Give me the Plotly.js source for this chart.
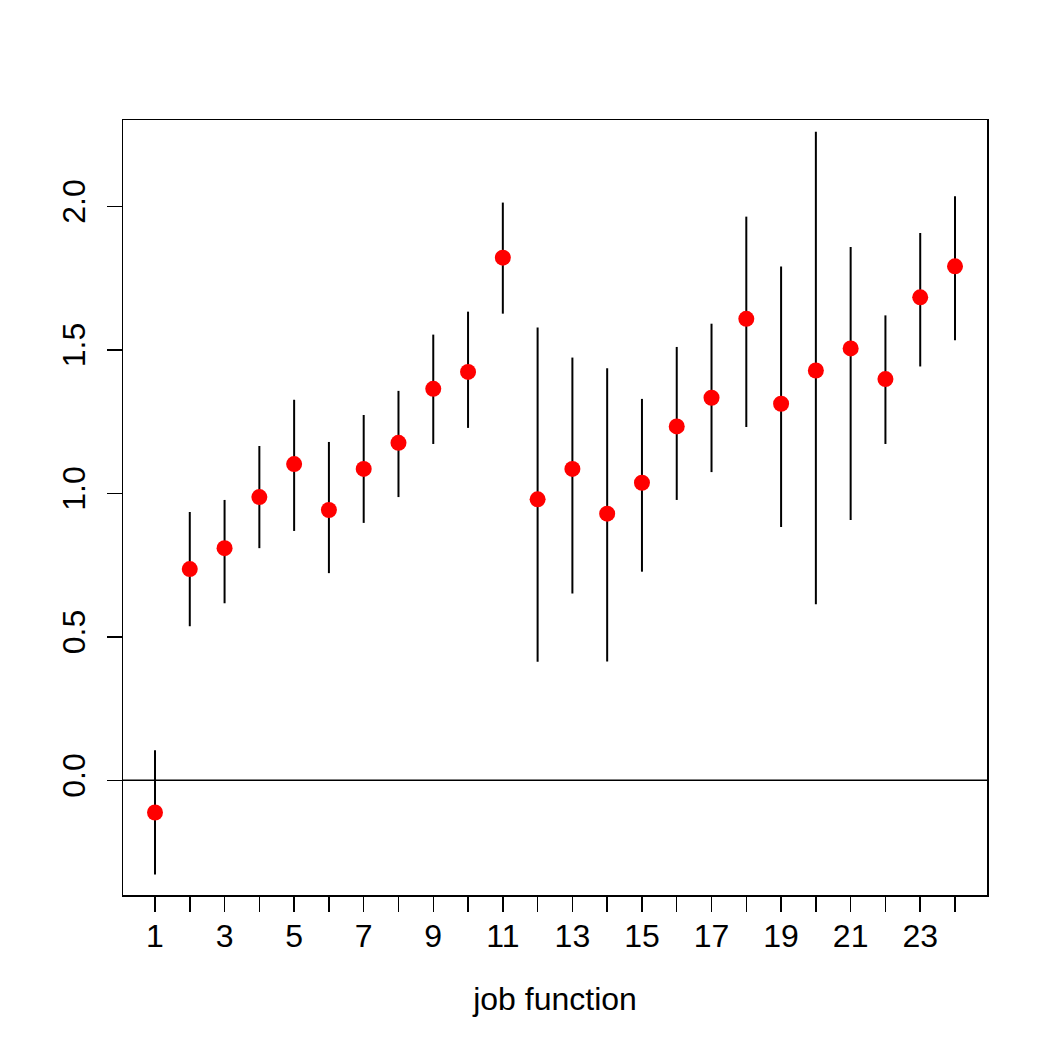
<!DOCTYPE html>
<html>
<head>
<meta charset="utf-8">
<script src="https://cdn.plot.ly/plotly-3.0.1.min.js"></script>
<style>html,body{margin:0;padding:0;background:#fff;}</style>
</head>
<body>
<div id="chart" style="width:1048px;height:1048px;"></div>
<script>
const jobFunction = [1,2,3,4,5,6,7,8,9,10,11,12,13,14,15,16,17,18,19,20,21,22,23,24];
const estimate = [-0.112,0.736,0.809,0.987,1.102,0.942,1.085,1.176,1.364,1.423,1.821,0.979,1.085,0.929,1.037,1.233,1.333,1.608,1.312,1.428,1.505,1.398,1.683,1.791];
const upper = [0.105,0.935,0.977,1.165,1.326,1.179,1.273,1.357,1.553,1.633,2.013,1.578,1.473,1.436,1.329,1.510,1.591,1.964,1.790,2.260,1.858,1.620,1.907,2.035];
const lower = [-0.328,0.537,0.617,0.809,0.869,0.722,0.897,0.987,1.172,1.228,1.626,0.413,0.651,0.414,0.727,0.977,1.074,1.231,0.883,0.614,0.907,1.172,1.442,1.533];
const xTickLabels = jobFunction.map(v => (v % 2 === 1 ? String(v) : ""));
const yTickVals = [0, 0.5, 1.0, 1.5, 2.0];
const yTickLabels = ["0.0", "0.5", "1.0", "1.5", "2.0"];

const font = {family: "Liberation Sans, Arial, Helvetica, sans-serif", size: 32, color: "#000"};

const trace = {
  x: jobFunction,
  y: estimate,
  type: "scatter",
  mode: "markers",
  marker: {color: "#ff0000", size: 16},
  error_y: {
    type: "data",
    symmetric: false,
    array: upper.map((u, i) => u - estimate[i]),
    arrayminus: estimate.map((e, i) => e - lower[i]),
    color: "#000",
    thickness: 2,
    width: 0
  },
  hoverinfo: "x+y",
  showlegend: false
};

const layout = {
  width: 1048,
  height: 1048,
  margin: {l: 123, r: 61, t: 120, b: 153},
  paper_bgcolor: "#fff",
  plot_bgcolor: "#fff",
  font: font,
  showlegend: false,
  xaxis: {
    range: [0.08, 24.92],
    tickmode: "array",
    tickvals: jobFunction,
    ticktext: xTickLabels,
    ticks: "outside",
    ticklen: 15,
    tickwidth: 1.5,
    tickcolor: "#000",
    showline: true,
    linecolor: "#000",
    linewidth: 1.5,
    mirror: true,
    showgrid: false,
    zeroline: false,
    tickfont: font,
    ticklabelstandoff: -3,
    title: {text: "job function", font: font, standoff: 34},
    automargin: false
  },
  yaxis: {
    range: [-0.3994, 2.3007],
    tickmode: "array",
    tickvals: yTickVals,
    ticktext: yTickLabels,
    tickangle: -90,
    ticks: "outside",
    ticklen: 15,
    tickwidth: 1.5,
    tickcolor: "#000",
    showline: true,
    linecolor: "#000",
    linewidth: 1.5,
    mirror: true,
    showgrid: false,
    zeroline: false,
    tickfont: font,
    ticklabelstandoff: 9,
    automargin: false
  },
  shapes: [{
    type: "line", xref: "paper", x0: 0, x1: 1, yref: "y", y0: 0, y1: 0,
    line: {color: "#000", width: 1.5}
  }]
};

Plotly.newPlot("chart", [trace], layout, {displayModeBar: false, staticPlot: true});
</script>
</body>
</html>
